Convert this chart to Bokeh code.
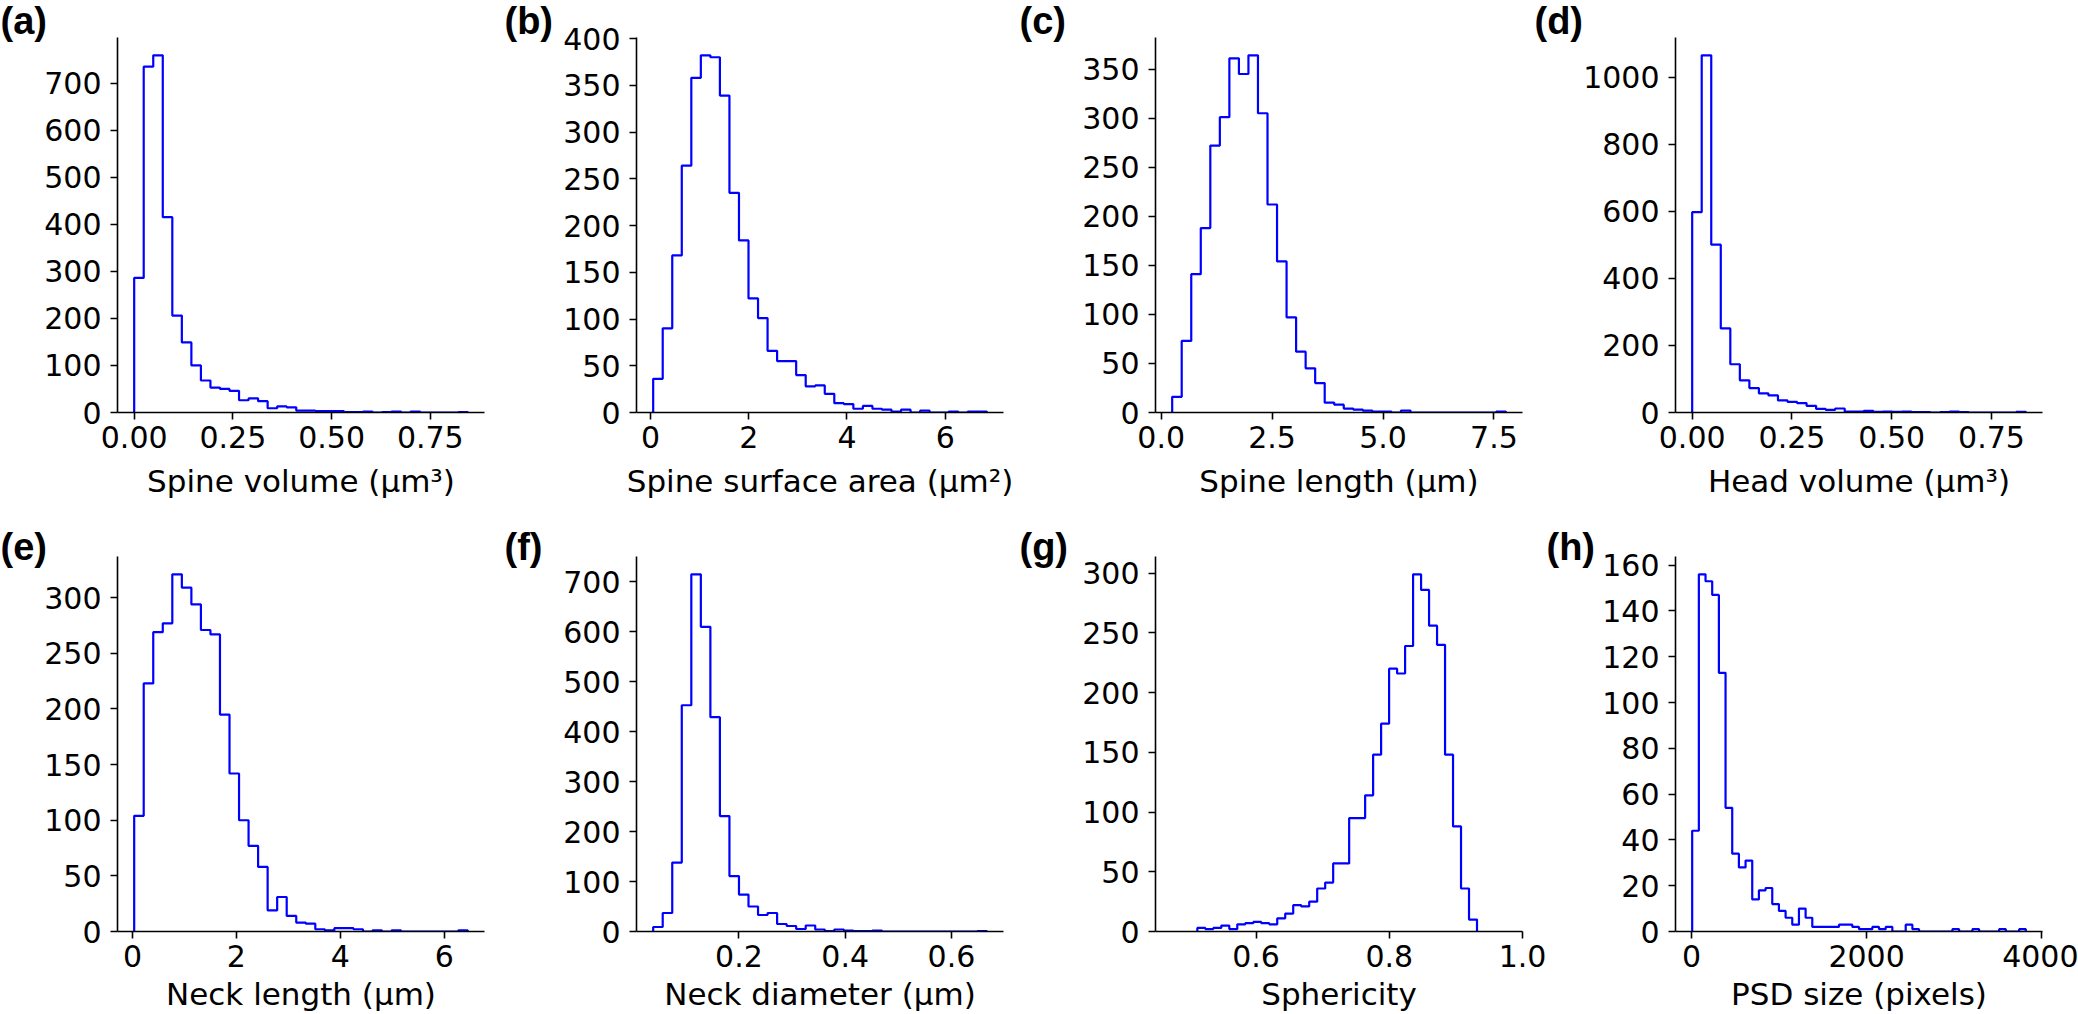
import numpy as np
from bokeh.plotting import figure
from bokeh.models import Range1d, FixedTicker, NumeralTickFormatter
from bokeh.layouts import row, column
from bokeh.embed import file_html
from bokeh.resources import INLINE

# ---------------- data ----------------
panel_letters = ["(a)", "(b)", "(c)", "(d)", "(e)", "(f)", "(g)", "(h)"]
x_titles = ["Spine volume (μm³)", "Spine surface area (μm²)", "Spine length (μm)",
            "Head volume (μm³)", "Neck length (μm)", "Neck diameter (μm)",
            "Sphericity", "PSD size (pixels)"]

# histogram bin range (first edge, last edge) and counts
a_range = [0.0, 0.845]
a_counts = [286, 735, 759, 415, 206, 149, 100, 68, 53, 50, 46, 26, 30, 24, 9, 13, 11, 4, 4, 3,
            3, 3, 1, 1, 2, 0, 1, 2, 0, 2, 0, 0, 0, 0, 1]
b_range = [0.054, 6.848]
b_counts = [36, 90, 168, 264, 358, 382, 380, 339, 235, 184, 122, 101, 66, 55, 55, 40, 28, 29, 20, 10,
            9, 4, 7, 4, 3, 1, 3, 0, 2, 0, 0, 1, 0, 1, 1]
c_range = [0.248, 7.768]
c_counts = [16, 73, 141, 188, 272, 301, 361, 345, 364, 305, 212, 154, 97, 62, 45, 30, 10, 8, 4, 3,
            2, 1, 1, 0, 2, 0, 0, 0, 0, 0, 0, 0, 0, 0, 1]
d_range = [0.0, 0.836]
d_counts = [598, 1066, 501, 251, 144, 96, 73, 57, 51, 36, 32, 28, 20, 11, 8, 12, 3, 3, 5, 2,
            3, 2, 3, 1, 1, 0, 1, 3, 1, 0, 0, 0, 0, 0, 2]
e_range = [0.032, 6.455]
e_counts = [104, 223, 269, 277, 321, 309, 294, 271, 267, 195, 142, 100, 77, 58, 19, 31, 14, 8, 7, 2,
            1, 3, 3, 2, 0, 1, 0, 1, 0, 0, 0, 0, 0, 0, 1]
f_range = [0.0386, 0.6666]
f_counts = [9, 37, 138, 453, 715, 610, 429, 231, 111, 74, 50, 33, 37, 15, 11, 5, 12, 4, 1, 4,
            2, 1, 1, 2, 0, 0, 0, 0, 0, 0, 0, 0, 0, 0, 1]
g_range = [0.5118, 0.9317]
g_counts = [3, 2, 3, 5, 2, 6, 7, 8, 7, 6, 11, 15, 22, 21, 25, 36, 41, 57, 57, 95,
            95, 114, 148, 174, 220, 216, 239, 299, 286, 256, 240, 148, 88, 36, 10]
h_range = [6, 3820]
h_counts = [44, 156, 153, 147, 113, 54, 34, 28, 31, 14, 18, 19, 12, 9, 6, 3, 10, 6, 2, 2,
            2, 2, 3, 3, 2, 1, 1, 2, 1, 2, 0, 0, 3, 1, 0, 0, 0, 0, 0, 1,
            0, 0, 1, 0, 0, 0, 1, 0, 0, 1]

# tick values
x_ticks = [[0, 0.25, 0.5, 0.75], [0, 2, 4, 6], [0, 2.5, 5, 7.5], [0, 0.25, 0.5, 0.75],
           [0, 2, 4, 6], [0.2, 0.4, 0.6], [0.6, 0.8, 1.0], [0, 2000, 4000]]
x_formats = ["0.00", "0", "0.0", "0.00", "0", "0.0", "0.0", "0"]
y_ticks = [list(range(0, 701, 100)), list(range(0, 401, 50)), list(range(0, 351, 50)),
           list(range(0, 1001, 200)), list(range(0, 301, 50)), list(range(0, 701, 100)),
           list(range(0, 301, 50)), list(range(0, 161, 20))]
# explicit x-limits where the reference axis is not the default margin
x_limit_override = {6: (0.449, 1.0)}

ranges = [a_range, b_range, c_range, d_range, e_range, f_range, g_range, h_range]
counts = [a_counts, b_counts, c_counts, d_counts, e_counts, f_counts, g_counts, h_counts]

# ---------------- layout geometry (page origin is the window corner) ----------------
FRAME_W, FRAME_H = 367, 375
FIG_W = [[500, 515, 515, 548], [500, 515, 531, 532]]
BORDER_L = [[117, 136, 140, 145], [117, 136, 140, 129]]
ROW_H = [519, 495]
BORDER_T = 37
AXIS_LABEL_STANDOFF = [12, 6]
LETTER_DX = [[-117, -132, -136, -141], [-117, -132, -136, -129]]
LETTER_STANDOFF = [-8, -22]

TICK_FONT = "DejaVu Sans"
BLUE = "#0000ff"


def make_panel(i):
    r, c = divmod(i, 4)
    n = len(counts[i])
    edges = np.linspace(ranges[i][0], ranges[i][1], n + 1)
    cnt = np.asarray(counts[i], dtype=float)
    span = edges[-1] - edges[0]
    if i in x_limit_override:
        x0, x1 = x_limit_override[i]
    else:
        x0, x1 = edges[0] - 0.05 * span, edges[-1] + 0.05 * span
    ytop = 1.05 * cnt.max()

    w, h = FIG_W[r][c], ROW_H[r]
    bl = BORDER_L[r][c]
    p = figure(width=w, height=h, x_range=Range1d(x0, x1), y_range=Range1d(0, ytop),
               output_backend="svg", toolbar_location=None,
               min_border_left=bl, min_border_right=w - bl - FRAME_W,
               min_border_top=BORDER_T, min_border_bottom=h - BORDER_T - FRAME_H)
    p.xgrid.visible = False
    p.ygrid.visible = False
    p.outline_line_color = None
    p.background_fill_color = "white"
    p.border_fill_color = "white"

    xs = np.repeat(edges, 2)
    ys = np.concatenate([[0.0], np.repeat(cnt, 2), [0.0]])
    p.line(xs, ys, line_color=BLUE, line_width=2.2)

    for ax in (p.xaxis[0], p.yaxis[0]):
        ax.axis_line_color = "black"
        ax.axis_line_width = 1.6
        ax.major_tick_line_color = "black"
        ax.major_tick_line_width = 1.6
        ax.major_tick_out = 7
        ax.major_tick_in = 0
        ax.minor_tick_line_color = None
        ax.major_label_text_font = TICK_FONT
        ax.major_label_text_font_size = "30px"
        ax.major_label_text_color = "black"
    xa = p.xaxis[0]
    xa.ticker = FixedTicker(ticks=x_ticks[i])
    xa.formatter = NumeralTickFormatter(format=x_formats[i])
    xa.major_label_standoff = 6
    xa.axis_label = x_titles[i]
    xa.axis_label_text_font = TICK_FONT
    xa.axis_label_text_font_size = "31px"
    xa.axis_label_text_font_style = "normal"
    xa.axis_label_text_color = "black"
    xa.axis_label_standoff = AXIS_LABEL_STANDOFF[r]
    ya = p.yaxis[0]
    ya.ticker = FixedTicker(ticks=y_ticks[i])
    ya.formatter = NumeralTickFormatter(format="0")
    ya.major_label_standoff = 9

    # panel letter as a left-aligned title pulled to the left of the frame
    p.title.text = panel_letters[i]
    p.title.align = "left"
    p.title.offset = LETTER_DX[r][c]
    p.title.standoff = LETTER_STANDOFF[r]
    p.title.text_font = "Liberation Sans"
    p.title.text_font_style = "bold"
    p.title.text_font_size = "38px"
    p.title.text_color = "black"
    return p


panels = [make_panel(i) for i in range(8)]
layout = column(row(*panels[:4]), row(*panels[4:]))

open("out.html", "w").write(file_html(layout, INLINE))
